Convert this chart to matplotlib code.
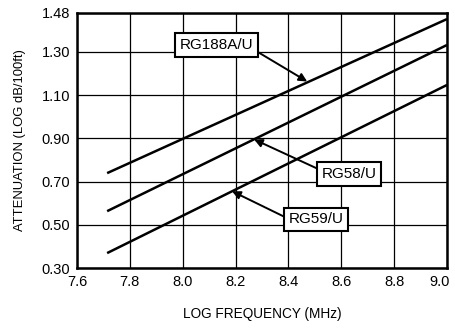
import matplotlib
matplotlib.use("Agg")
import matplotlib.pyplot as plt
from matplotlib.transforms import ScaledTranslation

plt.rcParams['font.family'] = ['Liberation Sans', 'DejaVu Sans']

# Data (log frequency vs log attenuation), straight lines
freq_start = [7.714, 7.714, 7.714]
freq_end = [9.0, 9.0, 9.0]
names = ["RG188A/U", "RG58/U", "RG59/U"]
atten_start = [0.739, 0.563, 0.369]
atten_end = [1.452, 1.332, 1.147]

# annotation: text position and arrow target
label_pos = [(8.127, 1.332), (8.630, 0.735), (8.505, 0.526)]
arrow_tip = [(8.471, 1.163), (8.270, 0.895), (8.187, 0.655)]
relpos = [(1.0, 0.2), (0.0, 0.74), (0.0, 0.52)]

xticks = [7.6, 7.8, 8.0, 8.2, 8.4, 8.6, 8.8, 9.0]
xticklabels = ["7.6", "7.8", "8.0", "8.2", "8.4", "8.6", "8.8", "9.0"]
yticks = [0.30, 0.50, 0.70, 0.90, 1.10, 1.30, 1.48]
yticklabels = ["0.30", "0.50", "0.70", "0.90", "1.10", "1.30", "1.48"]

fig = plt.figure(figsize=(4.56, 3.28), dpi=100)
ax = fig.add_axes([77/456, 1-268/328, (447-77)/456, (268-13)/328])

for xs, xe, ys, ye in zip(freq_start, freq_end, atten_start, atten_end):
    ax.plot([xs, xe], [ys, ye], color='black', lw=1.8, solid_capstyle='butt', zorder=3)

for (tx, ty), (ax_, ay), rp, name in zip(label_pos, arrow_tip, relpos, names):
    ax.annotate(name, xy=(ax_, ay), xytext=(tx, ty), ha='center', va='center',
                fontsize=11,
                bbox=dict(boxstyle='square,pad=0.3', fc='white', ec='black', lw=1.5),
                arrowprops=dict(arrowstyle='-|>', color='black', lw=1.4,
                                mutation_scale=12, relpos=rp, shrinkA=0, shrinkB=0),
                zorder=5)

ax.set_xlim(7.6, 9.0)
ax.set_ylim(0.30, 1.48)
ax.set_xticks(xticks)
ax.set_xticklabels(xticklabels)
ax.set_yticks(yticks)
ax.set_yticklabels(yticklabels)
ax.tick_params(length=0, labelsize=10.5, pad=5)
ax.grid(True, color='black', lw=0.9)
ax.set_axisbelow(True)
for s in ax.spines.values():
    s.set_linewidth(1.8)

last = ax.get_xticklabels()[-1]
last.set_transform(last.get_transform() + ScaledTranslation(-7/100, 0, fig.dpi_scale_trans))

ax.set_xlabel("LOG FREQUENCY (MHz)", fontsize=9.8, labelpad=13)
ax.set_ylabel("ATTENUATION (LOG dB/100ft)", fontsize=9.4, labelpad=11)

fig.savefig("out.png", dpi=100)
